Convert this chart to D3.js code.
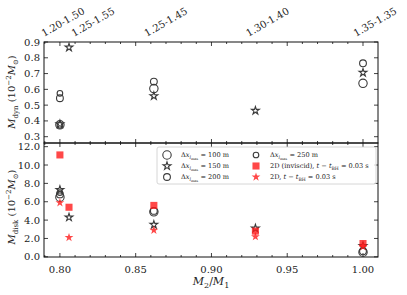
<!DOCTYPE html>
<html>
<head>
<meta charset="utf-8">
<script src="https://cdn.jsdelivr.net/npm/d3@7"></script>
<style>
  body { margin: 0; background: #fff; }
  svg text { font-family: 'DejaVu Serif', 'Liberation Serif', serif; fill: #222; }
</style>
</head>
<body>
<div id="chart"></div>
<script>
const width = 407
const height = 295

// mass ratio M2/M1 for each configuration
const topTickValues = [0.80, 0.806, 0.862, 0.929, 1.00]
const topTickLabels = ['1.20-1.50', '1.25-1.55', '1.25-1.45', '1.30-1.40', '1.35-1.35']

// M_dyn (1e-2 Msun)
const dyn100 = [[0.80, 0.375], [0.862, 0.605], [1.00, 0.638]]
const dyn150 = [[0.80, 0.38], [0.806, 0.866], [0.862, 0.558], [0.929, 0.465], [1.00, 0.706]]
const dyn200 = [[0.80, 0.544], [0.862, 0.649], [1.00, 0.765]]
const dyn250 = [[0.80, 0.575], [0.80, 0.372]]

// M_disk (1e-2 Msun)
const disk100 = [[0.80, 6.5], [0.862, 4.9], [1.00, 0.5]]
const disk150 = [[0.80, 7.3], [0.806, 4.3], [0.862, 3.5], [0.929, 3.1], [1.00, 1.2]]
const disk200 = [[0.80, 6.8], [0.862, 5.0], [1.00, 0.6]]
const disk250 = [[0.80, 7.0]]
const disk2dInviscid = [[0.80, 11.1], [0.806, 5.4], [0.862, 5.6], [0.929, 2.8], [1.00, 1.45]]
const disk2d = [[0.80, 5.9], [0.806, 2.1], [0.862, 2.9], [0.929, 2.2], [1.00, 1.1]]

const left = 44
const right = 378
const top1 = 42
const mid = 143
const bottom = 257

const svg = d3
  .select('#chart')
  .append('svg')
  .attr('width', width)
  .attr('height', height)

const x = d3.scaleLinear().domain([0.7895, 1.0099]).range([left, right])
const yDyn = d3.scaleLinear().domain([0.26, 0.9]).range([mid, top1])
const yDisk = d3.scaleLinear().domain([-0.02, 12.4]).range([bottom, mid])

const gray = '#3a3a3a'
const red = '#ff1a1a'

const markers = {
  big: { type: 'circle', r: 4.2, stroke: gray, fill: 'none', sw: 1.1 },
  star: { type: d3.symbolStar, size: 19, stroke: gray, fill: 'none', sw: 1.1 },
  mid: { type: 'circle', r: 3.4, stroke: gray, fill: 'none', sw: 1.1 },
  small: { type: 'circle', r: 2.8, stroke: gray, fill: 'none', sw: 1.1 },
  square: { type: d3.symbolSquare, size: 50, stroke: 'none', fill: red, opacity: 0.8 },
  redstar: { type: d3.symbolStar, size: 24, stroke: 'none', fill: red, opacity: 0.8 }
}

function drawMarker(g, m, cx, cy) {
  let el
  if (m.type === 'circle') {
    el = g.append('circle').attr('cx', cx).attr('cy', cy).attr('r', m.r)
  } else {
    el = g
      .append('path')
      .attr('d', d3.symbol().type(m.type).size(m.size)())
      .attr('transform', 'translate(' + cx + ',' + cy + ')')
  }
  el.attr('fill', m.fill)
    .attr('stroke', m.stroke)
    .attr('stroke-width', m.sw || 0)
    .attr('opacity', m.opacity || 1)
}

function drawSeries(data, y, m) {
  const g = svg.append('g')
  data.forEach(d => drawMarker(g, m, x(d[0]), y(d[1])))
}

// frames and ticks
function panel(y, yTop, yBot, yTicks) {
  const xMajor = d3.range(0.80, 1.0001, 0.05)
  const xMinor = d3.range(0.79, 1.0101, 0.01).filter(v => v > 0.7895 && v < 1.0099)
  const g = svg.append('g')
  xMinor.forEach(v => {
    const isMajor = xMajor.some(m => Math.abs(m - v) < 1e-6)
    const len = isMajor ? 4 : 2
    g.append('line').attr('x1', x(v)).attr('x2', x(v)).attr('y1', yBot).attr('y2', yBot - len)
    g.append('line').attr('x1', x(v)).attr('x2', x(v)).attr('y1', yTop).attr('y2', yTop + len)
  })
  yTicks.forEach(v => {
    g.append('line').attr('x1', left).attr('x2', left + 4).attr('y1', y(v)).attr('y2', y(v))
    g.append('line').attr('x1', right).attr('x2', right - 4).attr('y1', y(v)).attr('y2', y(v))
  })
  g.selectAll('line').attr('stroke', '#111').attr('stroke-width', 0.8)
  g.append('rect')
    .attr('x', left)
    .attr('y', yTop)
    .attr('width', right - left)
    .attr('height', yBot - yTop)
    .attr('fill', 'none')
    .attr('stroke', '#111')
    .attr('stroke-width', 1)
  g.selectAll('text.ytick')
    .data(yTicks)
    .enter()
    .append('text')
    .attr('class', 'ytick')
    .attr('x', left - 4)
    .attr('y', d => y(d))
    .attr('dy', '0.35em')
    .attr('text-anchor', 'end')
    .attr('font-size', 10)
    .text(d => (yTicks[0] < 1 ? d.toFixed(1) : d))
}

const dynTicks = [0.3, 0.4, 0.5, 0.6, 0.7, 0.8, 0.9]
const diskTicks = [0, 2, 4, 6, 8, 10, 12]
panel(yDyn, top1, mid, dynTicks)
panel(yDisk, mid, bottom, diskTicks)

// bottom x tick labels
svg
  .selectAll('text.xtick')
  .data([0.80, 0.85, 0.90, 0.95, 1.00])
  .enter()
  .append('text')
  .attr('x', d => x(d))
  .attr('y', bottom + 16)
  .attr('text-anchor', 'middle')
  .attr('font-size', 10)
  .text(d => d.toFixed(2))

// top rotated labels (first two nudged apart so they don't collide)
const topNudge = [-16, 5, -7, -7, -7]
topTickValues.forEach((v, i) => {
  const tx = x(v) + topNudge[i]
  const ty = 37
  svg
    .append('text')
    .attr('transform', 'translate(' + tx + ',' + ty + ') rotate(-30)')
    .attr('font-size', 10)
    .text(topTickLabels[i])
})

// axis labels
function yLabel(cy, sub) {
  const t = svg
    .append('text')
    .attr('transform', 'translate(15,' + cy + ') rotate(-90)')
    .attr('text-anchor', 'middle')
    .attr('font-size', 10)
  t.append('tspan').attr('font-style', 'italic').text('M')
  t.append('tspan').attr('font-size', 7).attr('dy', 2.5).text(sub)
  t.append('tspan').attr('dy', -2.5).text(' (10')
  t.append('tspan').attr('font-size', 7).attr('dy', -4).text('−2')
  t.append('tspan').attr('dy', 4).attr('font-style', 'italic').text('M')
  t.append('tspan').attr('font-size', 7).attr('dy', 2.5).text('⊙')
  t.append('tspan').attr('dy', -2.5).text(')')
}
yLabel(92, 'dyn')
yLabel(207, 'disk')

const xl = svg
  .append('text')
  .attr('x', (left + right) / 2)
  .attr('y', 285)
  .attr('text-anchor', 'middle')
  .attr('font-size', 11)
xl.append('tspan').attr('font-style', 'italic').text('M')
xl.append('tspan').attr('font-size', 8).attr('dy', 2.5).text('2')
xl.append('tspan').attr('dy', -2.5).text('/')
xl.append('tspan').attr('font-style', 'italic').text('M')
xl.append('tspan').attr('font-size', 8).attr('dy', 2.5).text('1')

// legend box
const lg = svg.append('g')
lg.append('rect')
  .attr('x', 157)
  .attr('y', 147)
  .attr('width', 219)
  .attr('height', 37)
  .attr('rx', 2)
  .attr('fill', '#fff')
  .attr('fill-opacity', 0.8)
  .attr('stroke', '#ccc')
  .attr('stroke-width', 0.8)

// data
drawSeries(dyn100, yDyn, markers.big)
drawSeries(dyn150, yDyn, markers.star)
drawSeries(dyn200, yDyn, markers.mid)
drawSeries(dyn250, yDyn, markers.small)

drawSeries(disk100, yDisk, markers.big)
drawSeries(disk150, yDisk, markers.star)
drawSeries(disk200, yDisk, markers.mid)
drawSeries(disk250, yDisk, markers.small)
drawSeries(disk2dInviscid, yDisk, markers.square)
drawSeries(disk2d, yDisk, markers.redstar)

const legendItems = [
  { m: markers.big, res: '100' },
  { m: markers.star, res: '150' },
  { m: markers.mid, res: '200' },
  { m: markers.small, res: '250' },
  { m: markers.square, txt: '2D (inviscid), ' },
  { m: markers.redstar, txt: '2D, ' }
]
legendItems.forEach((item, i) => {
  const col = Math.floor(i / 3)
  const row = i % 3
  const mx = col === 0 ? 167 : 256
  const my = 155 + row * 11
  drawMarker(lg, item.m, mx, my)
  const t = lg
    .append('text')
    .attr('x', mx + 14)
    .attr('y', my)
    .attr('dy', '0.35em')
    .attr('font-size', 6.6)
  if (item.res) {
    t.append('tspan').text('Δ')
    t.append('tspan').attr('font-style', 'italic').text('x')
    t.append('tspan').attr('font-size', 4.5).attr('dy', 2).attr('font-style', 'italic').text('l')
    t.append('tspan').attr('font-size', 3.5).attr('dy', 1).text('max')
    t.append('tspan').attr('dy', -3).text(' = ' + item.res + ' m')
  } else {
    t.append('tspan').text(item.txt)
    t.append('tspan').attr('font-style', 'italic').text('t')
    t.append('tspan').text(' − ')
    t.append('tspan').attr('font-style', 'italic').text('t')
    t.append('tspan').attr('font-size', 4.5).attr('dy', 2).text('BH')
    t.append('tspan').attr('dy', -2).text(' = 0.03 s')
  }
})
</script>
</body>
</html>
